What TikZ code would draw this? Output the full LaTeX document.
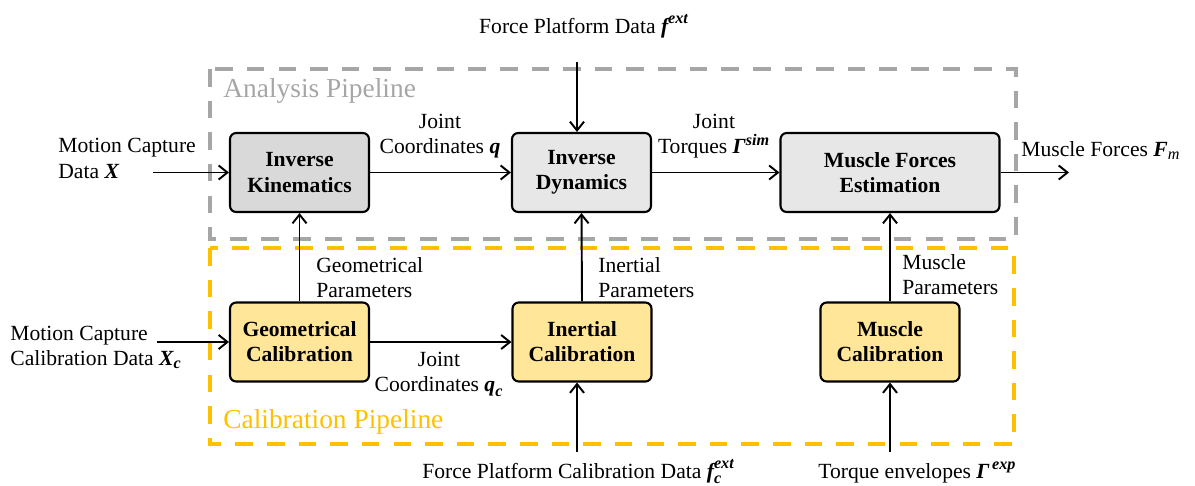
\documentclass[tikz,border=0pt]{standalone}
\usepackage{amsmath}
\usepackage{fontspec}
\setmainfont{Liberation Serif}
\usetikzlibrary{arrows.meta}
\definecolor{boxgrayA}{HTML}{D9D9D9}
\definecolor{boxgrayB}{HTML}{E7E7E7}
\definecolor{boxyellow}{HTML}{FFE699}
\definecolor{dashgray}{HTML}{A6A6A6}
\definecolor{dashyellow}{HTML}{FFC000}
\newcommand{\bi}[1]{{\bfseries\itshape #1}}
\newcommand{\scr}[1]{\text{\fontsize{9.2}{9.2}\selectfont\bfseries\itshape #1}}
\begin{document}
\begin{tikzpicture}[x=0.02cm,y=-0.02cm,
  txt/.style={font=\fontsize{12.3}{14.3}\selectfont, inner sep=0pt},
  blk/.style={draw=black, line width=1.2pt, rounded corners=3.5pt,
    minimum width=2.78cm, minimum height=1.58cm, align=center,
    font=\fontsize{12.3}{14.3}\selectfont\bfseries, inner sep=0pt},
  graybox/.style={blk, fill=boxgrayB},
  yellowbox/.style={blk, fill=boxyellow},
  conn/.style={line width=1.1pt, -{Straight Barb[length=5pt,width=8pt,line width=1.1pt]}},
  pipegray/.style={draw=dashgray, line width=2pt, dash pattern=on 10pt off 8pt},
  pipeyellow/.style={draw=dashyellow, line width=2.3pt, dash pattern=on 10pt off 8pt},
  pipelabel/.style={font=\fontsize{15.6}{18}\selectfont, inner sep=0pt, anchor=base west}
]
\useasboundingbox (0,0) rectangle (1195,485);

% pipelines
\draw[pipegray] (210,69) rectangle (1016,239);
\draw[pipeyellow] (210,248) rectangle (1014,444);
\node[pipelabel, text=dashgray] (alab) at (223,97) {Analysis Pipeline};
\node[pipelabel, text=dashyellow] (clab) at (223,428) {Calibration Pipeline};

% blocks
\node[graybox, fill=boxgrayA] (IK) at (299.5,172.5) {Inverse\\Kinematics};
\node[graybox] (ID) at (581.5,172.5) {Inverse\\Dynamics};
\node[graybox, minimum width=4.38cm] (MFE) at (890,172.5) {Muscle Forces\\Estimation};
\node[yellowbox] (GC) at (299.5,342) {Geometrical\\Calibration};
\node[yellowbox] (IC) at (582,342) {Inertial\\Calibration};
\node[yellowbox] (MC) at (890,342) {Muscle\\Calibration};

% free ends
\coordinate (inX) at (153,172.5);
\coordinate (inXc) at (157,342);
\coordinate (fext) at (577,62);
\coordinate (fcext) at (577,452);
\coordinate (gexp) at (890,452);
\coordinate (outF) at (1069,172.5);

% connectors
\draw[conn] (inX) -- (IK.west);
\draw[conn] (IK.east) -- (ID.west);
\draw[conn] (ID.east) -- (MFE.west);
\draw[conn] (MFE.east) -- (outF);
\draw[conn] (fext) -- (fext |- ID.north);
\draw[conn] (GC.north) -- (IK.south);
\draw[conn] (IC.north) -- (ID.south);
\draw[conn] (MC.north) -- (MFE.south);
\draw[conn] (inXc) -- (GC.west);
\draw[conn] (GC.east) -- (IC.west);
\draw[conn] (fcext) -- (fcext |- IC.south);
\draw[conn] (gexp) -- (MC.south);

% labels
\node[txt, anchor=base] (lfext) at (584,33) {Force Platform Data $\text{\bi{f}}^{\scr{ext}}$};
\node[txt, anchor=west, align=left] (lX) at (58,158.5) {Motion Capture\\Data \bi{X}};
\node[txt, align=center] (lq) at (440,136.5) {Joint\\Coordinates \bi{q}};
\node[txt, align=center] (ltau) at (714,136.5) {Joint\\Torques $\text{\bi{Γ}}^{\scr{sim}}$};
\node[txt, anchor=base west] (lF) at (1021,156) {Muscle Forces $\text{\bi{F}}_{\text{\fontsize{9.2}{9.2}\selectfont\itshape m}}$};
\node[txt, anchor=west, align=left] (lgp) at (316,277.5) {Geometrical\\Parameters};
\node[txt, anchor=west, align=left] (lip) at (598,277.5) {Inertial\\Parameters};
\node[txt, anchor=west, align=left] (lmp) at (902,274.5) {Muscle\\Parameters};
\node[txt, anchor=west, align=left] (lXc) at (10,347.5) {Motion Capture\\Calibration Data $\text{\bi{X}}_{\scr{c}}$};
\node[txt, align=center] (lqc) at (439,374.5) {Joint\\Coordinates $\text{\bi{q}}_{\scr{c}}$};
\node[txt, anchor=base west] (lfc) at (422,478) {Force Platform Calibration Data $\text{\bi{f}}^{\scr{ext}}_{\scr{c}}$};
\node[txt, anchor=base west] (lgexp) at (818,478) {Torque envelopes $\text{\bi{Γ}}^{\,\scr{exp}}$};
\end{tikzpicture}
\end{document}
